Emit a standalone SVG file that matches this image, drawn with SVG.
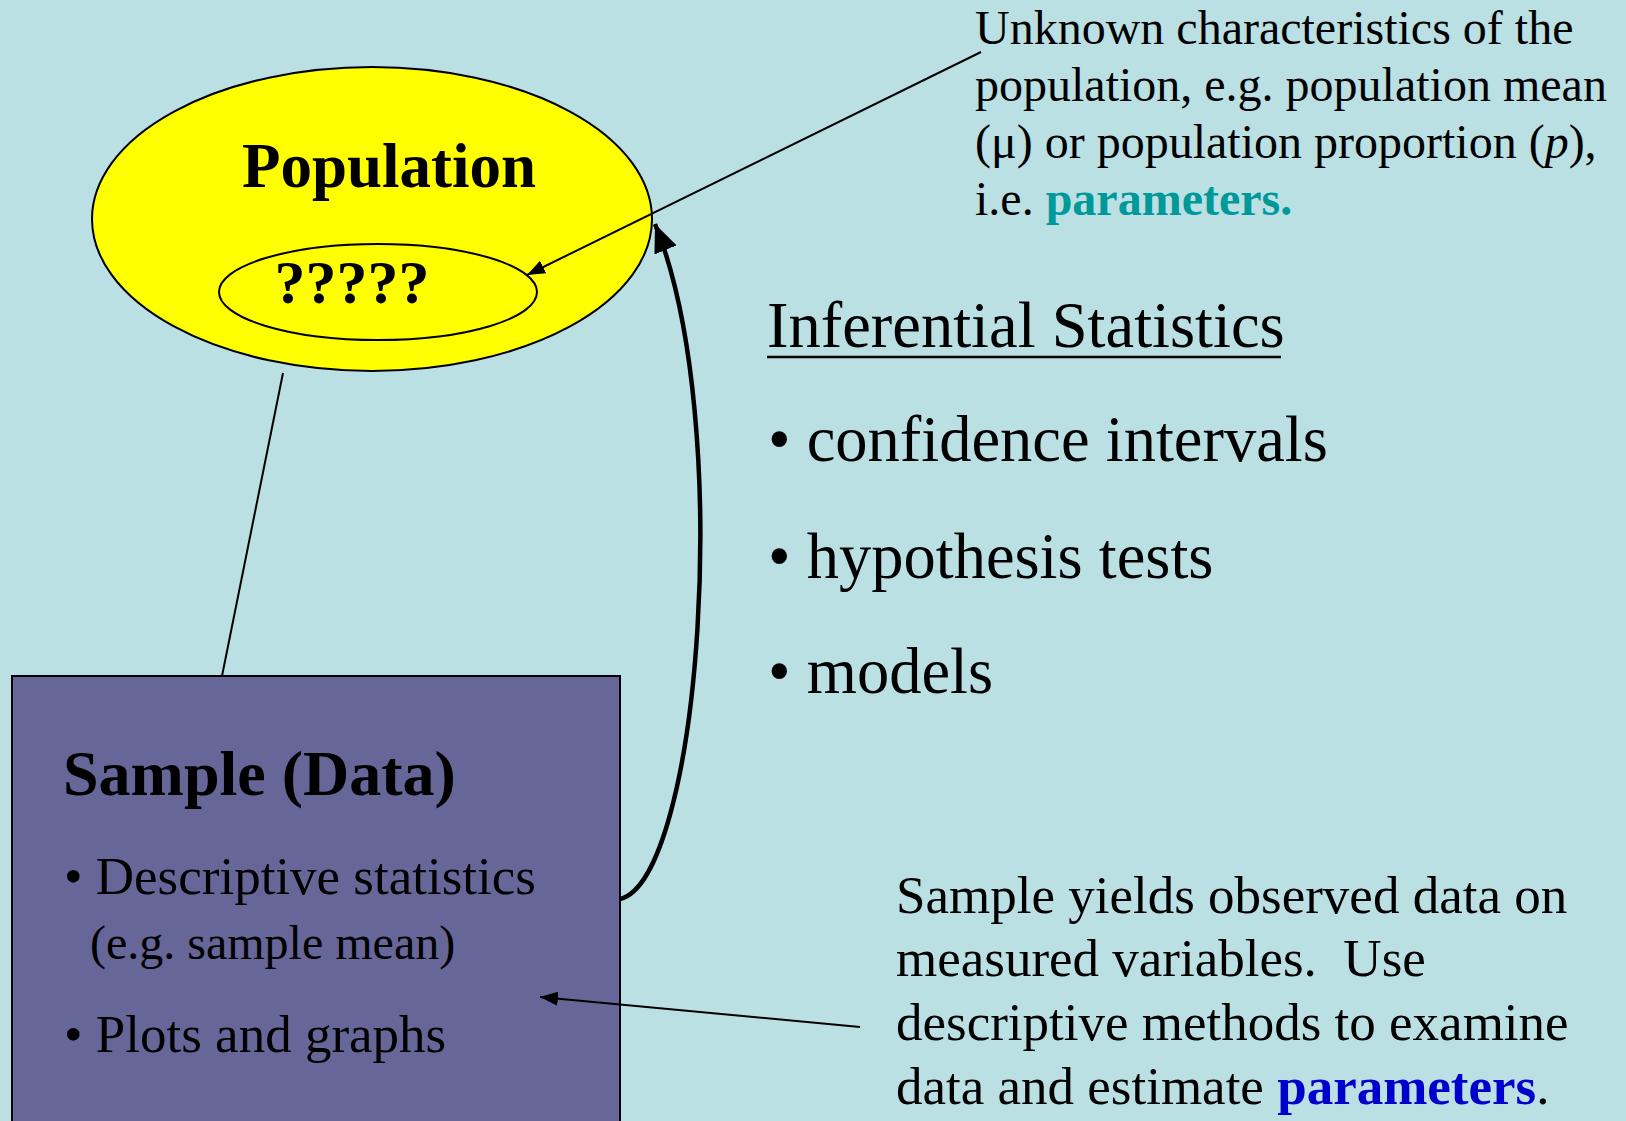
<svg xmlns="http://www.w3.org/2000/svg" width="1626" height="1121" viewBox="0 0 1626 1121">
<defs>
<style>
text{font-family:"Liberation Serif","Times New Roman",serif;fill:#000}
.b{font-weight:bold}
.thin{stroke:#000;stroke-width:2;fill:none}
</style>
<marker id="ah" markerUnits="userSpaceOnUse" markerWidth="20" markerHeight="14" refX="18" refY="7" orient="auto"><path d="M0,0 L18,7 L0,14 Z" fill="#000"/></marker>
<marker id="ahb" markerUnits="userSpaceOnUse" markerWidth="30" markerHeight="24" refX="28" refY="12" orient="auto"><path d="M0,0 L28,12 L0,24 Z" fill="#000"/></marker>
</defs>
<rect width="1626" height="1121" fill="#bbe0e3"/>
<g id="population">
<ellipse cx="372" cy="219" rx="280" ry="152" fill="#ffff00" stroke="#000" stroke-width="2"/>
<text class="b" x="389" y="187" font-size="63" text-anchor="middle">Population</text>
</g>
<g id="unknown">
<ellipse cx="378" cy="292" rx="159" ry="48" fill="#ffff00" stroke="#000" stroke-width="2"/>
<text class="b" x="352" y="303" font-size="62" text-anchor="middle">?????</text>
</g>
<g id="sample">
<rect x="12" y="676" width="608" height="460" fill="#666699" stroke="#000" stroke-width="2"/>
<text class="b" x="63" y="795" font-size="64">Sample (Data)</text>
<text x="64" y="894" font-size="53">• Descriptive statistics</text>
<text x="90" y="959" font-size="48">(e.g. sample mean)</text>
<text x="64" y="1052" font-size="53">• Plots and graphs</text>
</g>
<g id="inferential">
<text x="767" y="347" font-size="64.5">Inferential Statistics</text>
<line x1="767" y1="357" x2="1281" y2="357" stroke="#000" stroke-width="2.5"/>
<text x="768" y="461" font-size="64.5">• confidence intervals</text>
<text x="768" y="578" font-size="64.5">• hypothesis tests</text>
<text x="768" y="693" font-size="64.5">• models</text>
</g>
<g id="note-parameters">
<text x="975" y="44" font-size="48">Unknown characteristics of the</text>
<text x="975" y="101" font-size="48">population, e.g. population mean</text>
<text x="975" y="158" font-size="48">(μ) or population proportion (<tspan font-style="italic">p</tspan>),</text>
<text x="975" y="215" font-size="48">i.e. <tspan class="b" style="fill:#009999">parameters.</tspan></text>
</g>
<g id="note-sample">
<text x="896" y="913" font-size="53">Sample yields observed data on</text>
<text x="896" y="976" font-size="53">measured variables.&#160; Use</text>
<text x="896" y="1040" font-size="53">descriptive methods to examine</text>
<text x="896" y="1104" font-size="53">data and estimate <tspan class="b" style="fill:#0000cc">parameters</tspan>.</text>
</g>
<g id="connectors">
<line class="thin" x1="283" y1="373" x2="222" y2="676"/>
<line class="thin" x1="981" y1="52" x2="527" y2="275" marker-end="url(#ah)"/>
<line class="thin" x1="860" y1="1027" x2="540" y2="997" marker-end="url(#ah)"/>
<path d="M620,899 C700,880 735,420 655,224" fill="none" stroke="#000" stroke-width="4.5" marker-end="url(#ahb)"/>
</g>
</svg>
